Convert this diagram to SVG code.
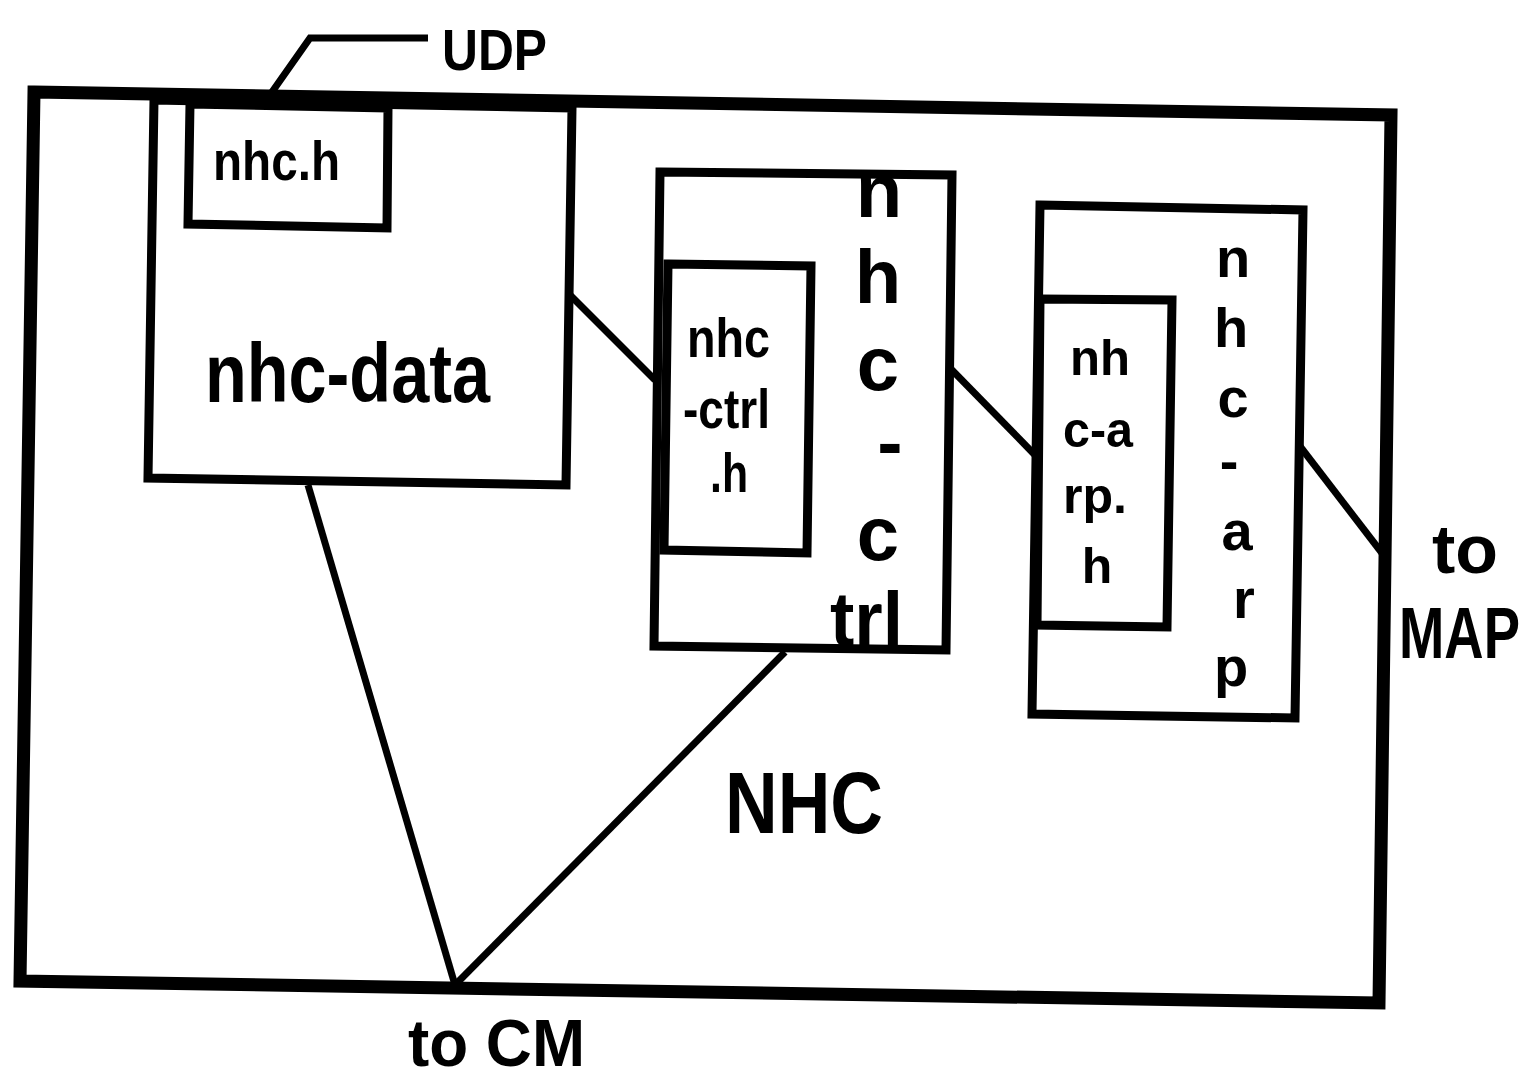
<svg xmlns="http://www.w3.org/2000/svg" width="1530" height="1084" viewBox="0 0 1530 1084">
<style>
.box{fill:none;stroke:#000;stroke-width:9;stroke-linejoin:miter}
.outer{fill:none;stroke:#000;stroke-width:13}
.con{fill:none;stroke:#000;stroke-width:7}
text{font-family:"Liberation Sans",Arial,sans-serif;font-weight:bold;fill:#000}
.m{text-anchor:middle}
</style>
<rect width="1530" height="1084" fill="#fff"/>
<g id="NHC">
<polygon class="outer" points="34,92 1391,115 1379,1003 20,981"/>
<text x="725" y="833" font-size="88" textLength="158" lengthAdjust="spacingAndGlyphs">NHC</text>
</g>
<g id="nhc-data">
<polygon class="box" points="154,100 572,108 566,485 148,478"/>
<text x="205" y="402" font-size="84" textLength="285" lengthAdjust="spacingAndGlyphs">nhc-data</text>
</g>
<g id="nhc-h">
<polygon class="box" points="190,104 388,108 387,228 188,224"/>
<text x="213" y="180" font-size="56" textLength="127" lengthAdjust="spacingAndGlyphs">nhc.h</text>
</g>
<g id="nhc-ctrl">
<polygon class="box" points="660,172 952,175 946,650 654,646"/>
<text class="m" x="879" y="217" font-size="76">n</text>
<text class="m" x="878" y="303" font-size="76">h</text>
<text class="m" x="878" y="390" font-size="76">c</text>
<text class="m" x="890" y="468" font-size="76">-</text>
<text class="m" x="878" y="560" font-size="76">c</text>
<text x="830" y="645" font-size="76" textLength="73" lengthAdjust="spacingAndGlyphs">trl</text>
</g>
<g id="nhc-ctrl-h">
<polygon class="box" points="668,264 811,266 807,553 664,550"/>
<text x="687" y="357" font-size="56" textLength="83" lengthAdjust="spacingAndGlyphs">nhc</text>
<text x="683" y="428" font-size="56" textLength="87" lengthAdjust="spacingAndGlyphs">-ctrl</text>
<text x="710" y="492" font-size="56" textLength="38" lengthAdjust="spacingAndGlyphs">.h</text>
</g>
<g id="nhc-arp">
<polygon class="box" points="1040,205 1303,210 1295,718 1032,714"/>
<text class="m" x="1233" y="277" font-size="56">n</text>
<text class="m" x="1231" y="347" font-size="56">h</text>
<text class="m" x="1233" y="417" font-size="56">c</text>
<text class="m" x="1229" y="480" font-size="56">-</text>
<text class="m" x="1237" y="550" font-size="56">a</text>
<text class="m" x="1244" y="618" font-size="56">r</text>
<text class="m" x="1231" y="686" font-size="56">p</text>
</g>
<g id="nhc-arp-h">
<polygon class="box" points="1040,299 1172,300 1167,627 1037,625"/>
<text x="1070" y="375" font-size="50" textLength="60" lengthAdjust="spacingAndGlyphs">nh</text>
<text x="1063" y="447" font-size="50" textLength="70" lengthAdjust="spacingAndGlyphs">c-a</text>
<text x="1063" y="513" font-size="50" textLength="64" lengthAdjust="spacingAndGlyphs">rp.</text>
<text class="m" x="1097" y="583" font-size="50">h</text>
</g>
<g id="labels">
<text x="1432" y="573" font-size="68" textLength="66" lengthAdjust="spacingAndGlyphs">to</text>
<text transform="translate(1399,658) scale(1,1.2)" x="0" y="0" font-size="60" textLength="121" lengthAdjust="spacingAndGlyphs">MAP</text>
<text x="442" y="70" font-size="58" textLength="105" lengthAdjust="spacingAndGlyphs">UDP</text>
<text x="408" y="1066" font-size="66" textLength="177" lengthAdjust="spacingAndGlyphs">to CM</text>
</g>
<g id="connectors">
<polyline class="con" points="272,92 310,38 428,38"/>
<line class="con" x1="568" y1="293" x2="655" y2="380"/>
<line class="con" x1="950" y1="368" x2="1035" y2="455"/>
<line class="con" x1="1299" y1="445" x2="1385" y2="557"/>
<line class="con" x1="308" y1="485" x2="455" y2="985"/>
<line class="con" x1="785" y1="652" x2="455" y2="985"/>
</g>
</svg>
